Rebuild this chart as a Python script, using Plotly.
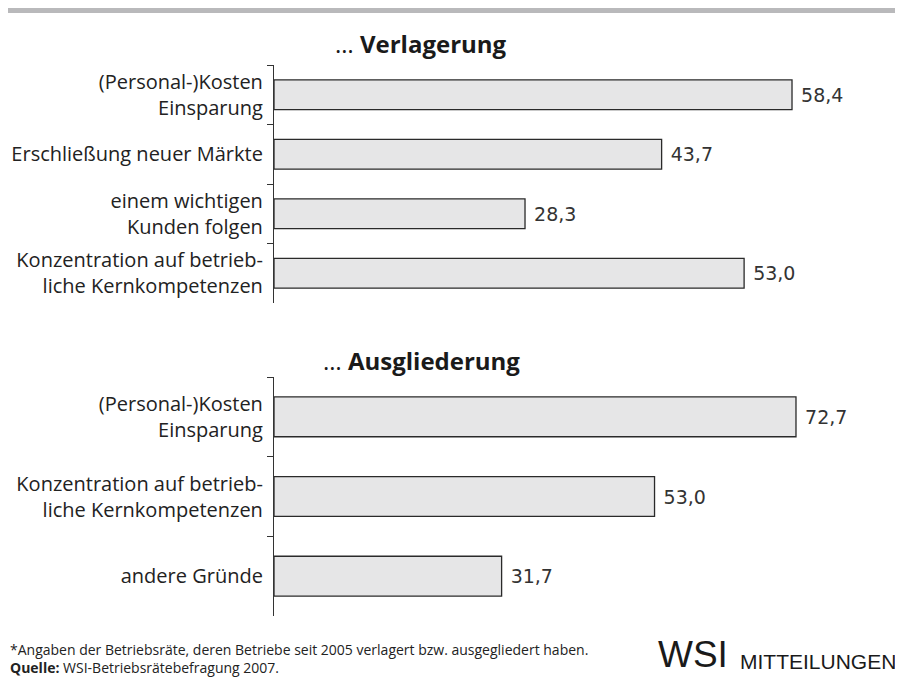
import plotly.graph_objects as go

# Data
cats_verl = ["(Personal-)Kosten<br>Einsparung", "Erschließung neuer Märkte",
             "einem wichtigen<br>Kunden folgen", "Konzentration auf betrieb-<br>liche Kernkompetenzen"]
vals_verl = [58.4, 43.7, 28.3, 53.0]
cats_ausg = ["(Personal-)Kosten<br>Einsparung", "Konzentration auf betrieb-<br>liche Kernkompetenzen",
             "andere Gründe"]
vals_ausg = [72.7, 53.0, 31.7]
title_verl = "… <b>Verlagerung</b>"
title_ausg = "… <b>Ausgliederung</b>"
footnote = "*Angaben der Betriebsräte, deren Betriebe seit 2005 verlagert bzw. ausgegliedert haben."
source = "<b>Quelle:</b> WSI-Betriebsrätebefragung 2007."

# The page body adds an 8px offset; lay out in page pixels and convert
OFF = 8
W, H = 903 - OFF, 678 - OFF
LABEL_FONT = "Open Sans"
VAL_FONT = "DejaVu Sans"


def px(x):
    return (x - OFF) / W


def py(y):
    return 1 - (y - OFF) / H


bar_style = dict(marker=dict(color="#e6e6e7", line=dict(color="#2a2a2a", width=1.3)),
                 width=0.5, orientation="h", textposition="outside", cliponaxis=False,
                 texttemplate=" %{x:.1f}", textfont=dict(family=VAL_FONT, size=19, color="#333333"),
                 showlegend=False, hoverinfo="skip")

fig = go.Figure()
fig.add_trace(go.Bar(x=vals_verl, y=cats_verl, xaxis="x", yaxis="y", **bar_style))
fig.add_trace(go.Bar(x=vals_ausg, y=cats_ausg, xaxis="x2", yaxis="y2", **bar_style))

xdom = [px(274), px(880)]
yaxis_common = dict(autorange="reversed", showline=True, linecolor="#333333", linewidth=1.2,
                    ticks="outside", ticklen=6, tickcolor="#333333", tickwidth=1.2,
                    tickson="boundaries", showgrid=False, zeroline=False,
                    tickfont=dict(family=LABEL_FONT, size=20, color="#222222"), ticklabelstandoff=6)
xaxis_common = dict(visible=False, showgrid=False, zeroline=False, domain=xdom)

fig.update_layout(
    width=W, height=H, margin=dict(l=0, r=0, t=0, b=0),
    paper_bgcolor="white", plot_bgcolor="white", separators=",.",
    xaxis=dict(range=[0, 606 / 8.87], anchor="y", **xaxis_common),
    xaxis2=dict(range=[0, 606 / 7.18], anchor="y2", **xaxis_common),
    yaxis=dict(domain=[py(303), py(65)], anchor="x", **yaxis_common),
    yaxis2=dict(domain=[py(616), py(377)], anchor="x2", **yaxis_common),
    shapes=[
        dict(type="rect", xref="paper", yref="paper", x0=0, x1=1, y0=py(OFF + 5), y1=1,
             fillcolor="#b9b9bb", line=dict(width=0), layer="below"),
        dict(type="line", xref="paper", yref="paper", x0=px(901), x1=px(901), y0=0, y1=py(OFF + 5),
             line=dict(color="#cfcfcf", width=2)),
    ],
    annotations=[
        dict(text=title_verl, xref="paper", yref="paper", x=px(421), y=py(43), xanchor="center",
             yanchor="middle", showarrow=False, font=dict(family=LABEL_FONT, size=24, color="#1a1a1a")),
        dict(text=title_ausg, xref="paper", yref="paper", x=px(421), y=py(360), xanchor="center",
             yanchor="middle", showarrow=False, font=dict(family=LABEL_FONT, size=24, color="#1a1a1a")),
        dict(text=footnote + "<br>" + source, xref="paper", yref="paper", x=px(8), y=py(658),
             xanchor="left", yanchor="middle", align="left", showarrow=False,
             font=dict(family=LABEL_FONT, size=14, color="#222222")),
        dict(text="WSI", xref="paper", yref="paper", x=px(657), y=py(654), xanchor="left",
             yanchor="middle", showarrow=False, borderpad=0,
             font=dict(family="Liberation Sans", size=37, color="#1a1a1a")),
        dict(text="MITTEILUNGEN", xref="paper", yref="paper", x=px(898), y=py(661), xanchor="right",
             yanchor="middle", showarrow=False,
             font=dict(family="Liberation Sans", size=21, color="#1a1a1a")),
    ],
)

fig.write_html("out.html")
